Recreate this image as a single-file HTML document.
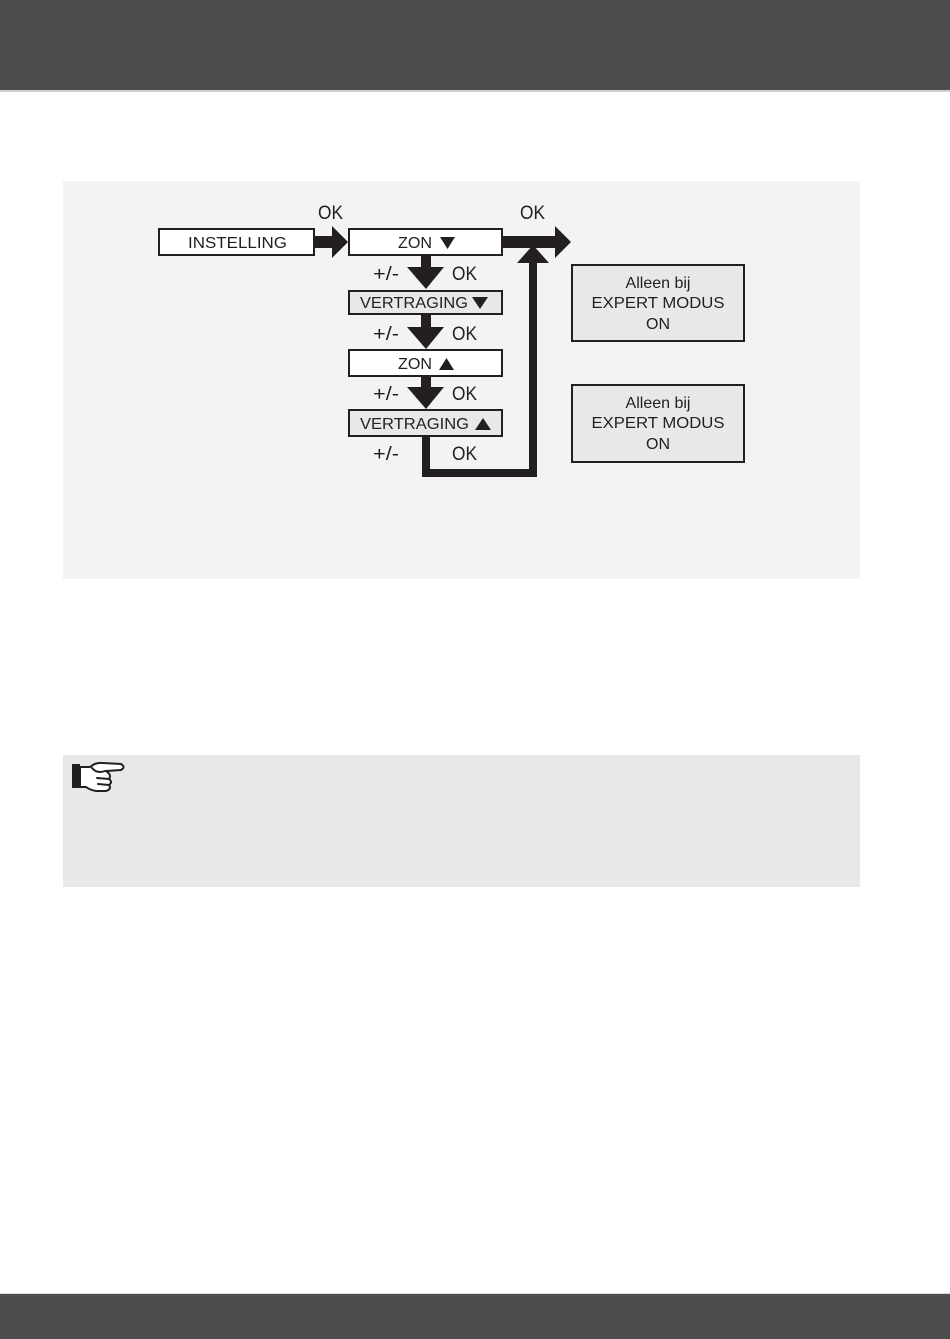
<!DOCTYPE html>
<html>
<head>
<meta charset="utf-8">
<style>
  html,body{margin:0;padding:0;}
  body{width:950px;height:1339px;position:relative;background:#ffffff;overflow:hidden;font-family:"Liberation Sans",sans-serif;}
  .hdr{position:absolute;left:0;top:0;width:950px;height:90px;background:#4e4c4c;}
  .hdrline{position:absolute;left:0;top:90px;width:950px;height:2px;background:#cfcfcf;}
  .ftr{position:absolute;left:0;top:1294px;width:950px;height:45px;background:#4e4c4c;}
  .ftrline{position:absolute;left:0;top:1293px;width:950px;height:1px;background:#d8d8d8;}
  .p1{position:absolute;left:63px;top:181px;width:797px;height:398px;background:#f3f3f3;}
  .p2{position:absolute;left:63px;top:755px;width:797px;height:132px;background:#e8e8e8;}
  svg{position:absolute;left:0;top:0;}
</style>
</head>
<body>
<div class="hdr"></div>
<div class="hdrline"></div>
<div class="p1"></div>
<div class="p2"></div>
<div class="ftrline"></div>
<div class="ftr"></div>

<svg width="950" height="1339" viewBox="0 0 950 1339" xmlns="http://www.w3.org/2000/svg">
  <g fill="#231f20" stroke="none">
    <!-- INSTELLING -> ZON arrow -->
    <rect x="313" y="236" width="20" height="12"/>
    <polygon points="332,226 348,242 332,258"/>
    <!-- ZON -> right arrow -->
    <rect x="501" y="236" width="56" height="12"/>
    <polygon points="555,226 571,242 555,258"/>
    <!-- up arrow -->
    <polygon points="517,263 533,245 549,263"/>
    <rect x="529" y="262" width="8" height="215"/>
    <!-- return path -->
    <rect x="422" y="436" width="8" height="41"/>
    <rect x="422" y="469" width="115" height="8"/>
    <!-- down arrow 1 -->
    <rect x="421" y="254" width="10" height="14"/>
    <polygon points="407,267 444,267 426,289"/>
    <!-- down arrow 2 -->
    <rect x="421" y="313" width="10" height="15"/>
    <polygon points="407,327 444,327 426,349"/>
    <!-- down arrow 3 -->
    <rect x="421" y="375" width="10" height="13"/>
    <polygon points="407,387 444,387 426,409"/>
  </g>

  <!-- boxes -->
  <g stroke="#231f20" stroke-width="2">
    <rect x="159" y="229" width="155" height="26" fill="#ffffff"/>
    <rect x="349" y="229" width="153" height="26" fill="#ffffff"/>
    <rect x="349" y="291" width="153" height="23" fill="#e8e8e8"/>
    <rect x="349" y="350" width="153" height="26" fill="#ffffff"/>
    <rect x="349" y="410" width="153" height="26" fill="#e8e8e8"/>
    <rect x="572" y="265" width="172" height="76" fill="#e8e8e8"/>
    <rect x="572" y="385" width="172" height="77" fill="#e8e8e8"/>
  </g>

  <g font-family="Liberation Sans, sans-serif" fill="#231f20">
    <text x="188" y="248" font-size="16" textLength="99" lengthAdjust="spacingAndGlyphs">INSTELLING</text>
    <text x="398" y="248" font-size="16" textLength="34" lengthAdjust="spacingAndGlyphs">ZON</text>
    <text x="360" y="308" font-size="16" textLength="108" lengthAdjust="spacingAndGlyphs">VERTRAGING</text>
    <text x="398" y="369" font-size="16" textLength="34" lengthAdjust="spacingAndGlyphs">ZON</text>
    <text x="360" y="429" font-size="16" textLength="109" lengthAdjust="spacingAndGlyphs">VERTRAGING</text>
  </g>
  <g font-family="Liberation Sans, sans-serif" fill="#231f20" text-anchor="middle">
    <text x="658" y="288" font-size="16">Alleen bij</text>
    <text x="658" y="308" font-size="16" textLength="133" lengthAdjust="spacingAndGlyphs">EXPERT MODUS</text>
    <text x="658" y="329" font-size="16">ON</text>
    <text x="658" y="408" font-size="16">Alleen bij</text>
    <text x="658" y="428" font-size="16" textLength="133" lengthAdjust="spacingAndGlyphs">EXPERT MODUS</text>
    <text x="658" y="449" font-size="16">ON</text>
  </g>

  <!-- triangle glyph markers -->
  <g fill="#231f20">
    <polygon points="440,237 455,237 447.5,249"/>
    <polygon points="472,297 488,297 480,309"/>
    <polygon points="439,370 454,370 446.5,358"/>
    <polygon points="475,430 491,430 483,418"/>
  </g>

  <g font-family="Liberation Sans, sans-serif" fill="#231f20" font-size="19">
    <text x="318" y="219" textLength="25" lengthAdjust="spacingAndGlyphs">OK</text>
    <text x="520" y="219" textLength="25" lengthAdjust="spacingAndGlyphs">OK</text>

    <text x="373" y="280" textLength="26" lengthAdjust="spacingAndGlyphs">+/-</text>
    <text x="452" y="280" textLength="25" lengthAdjust="spacingAndGlyphs">OK</text>
    <text x="373" y="340" textLength="26" lengthAdjust="spacingAndGlyphs">+/-</text>
    <text x="452" y="340" textLength="25" lengthAdjust="spacingAndGlyphs">OK</text>
    <text x="373" y="400" textLength="26" lengthAdjust="spacingAndGlyphs">+/-</text>
    <text x="452" y="400" textLength="25" lengthAdjust="spacingAndGlyphs">OK</text>
    <text x="373" y="460" textLength="26" lengthAdjust="spacingAndGlyphs">+/-</text>
    <text x="452" y="460" textLength="25" lengthAdjust="spacingAndGlyphs">OK</text>
  </g>

  <!-- pointing hand icon -->
  <g stroke="#231f20" stroke-width="2" fill="#ffffff" stroke-linejoin="round" stroke-linecap="round">
    <rect x="72" y="764" width="8" height="24" fill="#231f20" stroke="none"/>
    <path d="M80,767 L90,767 Q96,762 103,763 L121,764 Q126,767 121,770 L106,771 Q112,775 109,779 Q113,782 109,785 Q112,789 106,791 L96,791 Q90,790 86,787 L80,787 Z"/>
    <path d="M92,768 Q97,774 105,771" fill="none"/>
    <path d="M97,778 L109,779" fill="none"/>
    <path d="M98,784 L109,785" fill="none"/>
  </g>
</svg>
</body>
</html>
